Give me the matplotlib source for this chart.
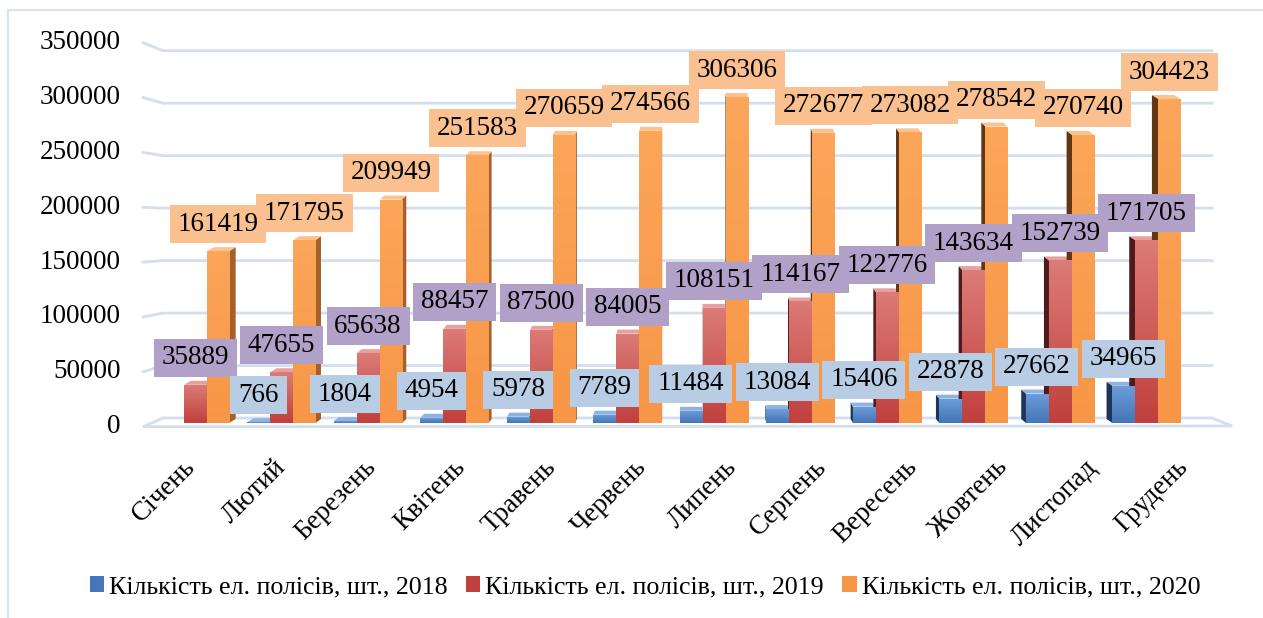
import numpy as np
import matplotlib
matplotlib.use("Agg")
import matplotlib.pyplot as plt
from matplotlib.patches import Rectangle, Polygon, Patch

plt.rcParams['font.family'] = ['Liberation Serif', 'DejaVu Serif']

# monthly counts of electronic policies
months = ['Січень', 'Лютий', 'Березень', 'Квітень', 'Травень', 'Червень',
          'Липень', 'Серпень', 'Вересень', 'Жовтень', 'Листопад', 'Грудень']
polis_2018 = [None, 766, 1804, 4954, 5978, 7789, 11484, 13084, 15406, 22878, 27662, 34965]
polis_2019 = [35889, 47655, 65638, 88457, 87500, 84005, 108151, 114167, 122776, 143634, 152739, 171705]
polis_2020 = [161419, 171795, 209949, 251583, 270659, 274566, 306306, 272677, 273082, 278542, 270740, 304423]
series_names = ['Кількість ел. полісів, шт., 2018',
                'Кількість ел. полісів, шт., 2019',
                'Кількість ел. полісів, шт., 2020']
y_ticks = [0, 50000, 100000, 150000, 200000, 250000, 300000, 350000]

W, H = 1263, 618
fig = plt.figure(figsize=(W / 100, H / 100), dpi=100)
ax = fig.add_axes([163 / W, 195 / H, 1047 / W, 372.5 / H])
ax.axis('off')
YMAX = 350000
PX = 1 / 86.5          # data x per pixel
PY = YMAX / 372.5      # data y per pixel

def px_x(p):
    return (p - 195) * PX

def px_y(p):
    return (423 - p) * PY

grid_c = '#D3DEEE'

# back wall gridlines with the little perspective bend on the left
for v in y_ticks:
    yb = 418 - v * 367.3 / YMAX
    yl = yb + 8.7 - 16.7 * v / YMAX
    if v > 0:
        ax.plot([px_x(143), px_x(163), px_x(1212)], [px_y(yl), px_y(yb), px_y(yb)],
                color=grid_c, lw=2, clip_on=False, zorder=1)
    ax.annotate(f'{v}', xy=(px_x(143), px_y(yl)), xytext=(-16, 0),
                textcoords='offset points', ha='right', va='center',
                fontsize=19.5, annotation_clip=False)

# floor
floor = Polygon([(px_x(163), px_y(418)), (px_x(1212), px_y(418)),
                 (px_x(1232), px_y(426)), (px_x(143), px_y(426.7))],
                closed=True, fc='white', ec=grid_c, lw=2, clip_on=False, zorder=1)
ax.add_patch(floor)

front_cols = [('#6E9DDA', '#4675B8'), ('#DC7B77', '#C0403D'), ('#FBA659', '#F79646')]
side_right = ['#2F5788', '#8E3331', '#A5602B']
side_left = ['#1C3558', '#4E1A1A', '#613614']
top_cols = ['#8DB3E2', '#E6A09D', '#FCC18C']
box_cols = ['#B8CCE4', '#B1A0C7', '#FAC090']
offsets = [-0.266, 0.0, 0.266]
bw = 0.255

def grad(c_top, c_bot, n=64):
    t = np.linspace(0, 1, n)[:, None]
    a = np.array(matplotlib.colors.to_rgb(c_top))
    b = np.array(matplotlib.colors.to_rgb(c_bot))
    return (a * (1 - t) + b * t)[:, None, :]

for s, data in enumerate([polis_2018, polis_2019, polis_2020]):
    img = grad(*front_cols[s])
    for i, v in enumerate(data):
        if v is None:
            continue
        xc = i + offsets[s]
        x0, x1 = xc - bw / 2, xc + bw / 2
        d = 1.2 * abs(5.8 - xc) * PX
        dy = 4 * PY
        if xc < 5.8:
            side = [(x1, 0), (x1, v), (x1 + d, v + dy), (x1 + d, dy)]
            top = [(x0, v), (x1, v), (x1 + d, v + dy), (x0 + d, v + dy)]
            sc = side_right[s]
        else:
            side = [(x0, 0), (x0, v), (x0 - d, v + dy), (x0 - d, dy)]
            top = [(x0, v), (x1, v), (x1 - d, v + dy), (x0 - d, v + dy)]
            sc = side_left[s]
        ax.add_patch(Polygon(side, closed=True, fc=sc, ec='none', zorder=2))
        ax.add_patch(Polygon(top, closed=True, fc=top_cols[s], ec='none', zorder=2))
        rect = Rectangle((x0, 0), bw, v, fc='none', ec='none', zorder=3)
        ax.add_patch(rect)
        im = ax.imshow(img, extent=[x0, x1, 0, v], aspect='auto', zorder=3,
                       interpolation='bilinear')
        im.set_clip_path(rect)

# value labels: boxes first, all texts above all boxes
for s, data in enumerate([polis_2020, polis_2019, polis_2018]):
    k = 2 - s
    for i, v in enumerate(data):
        if v is None:
            continue
        xc = i + offsets[k]
        yc = v + 27 * PY
        bwid = (13.4 * len(str(v)) + 16) * PX
        bhgt = 38 * PY
        ax.add_patch(Rectangle((xc - bwid / 2, yc - bhgt / 2), bwid, bhgt,
                               fc=box_cols[k], ec='none', zorder=5 + s, clip_on=False))
        ax.text(xc, yc, f'{v}', ha='center', va='center', fontsize=19.5,
                zorder=10, clip_on=False)

# month names
for i, m in enumerate(months):
    ax.annotate(m, xy=(-0.058 + 1.043 * i, 0), xytext=(1, -29),
                textcoords='offset points', ha='right', va='center',
                rotation=45, rotation_mode='anchor', fontsize=19.5,
                annotation_clip=False)

ax.set_xlim(px_x(163), px_x(1210))
ax.set_ylim(0, YMAX)

handles = [Patch(fc=front_cols[s][1], ec='none', label=series_names[s]) for s in range(3)]
fig.legend(handles=handles, loc='center', bbox_to_anchor=(645 / W, 1 - 587 / H),
           ncol=3, frameon=False, fontsize=18.7, handlelength=0.55, handleheight=0.6,
           handletextpad=0.2, columnspacing=0.7, borderpad=0)

fig.patches.append(Rectangle((8 / W, -0.1), 1.2, 1.1 - 10 / H, transform=fig.transFigure,
                             fc='none', ec='#D9E2F0', lw=1.5))

fig.savefig('out.png', dpi=100)
